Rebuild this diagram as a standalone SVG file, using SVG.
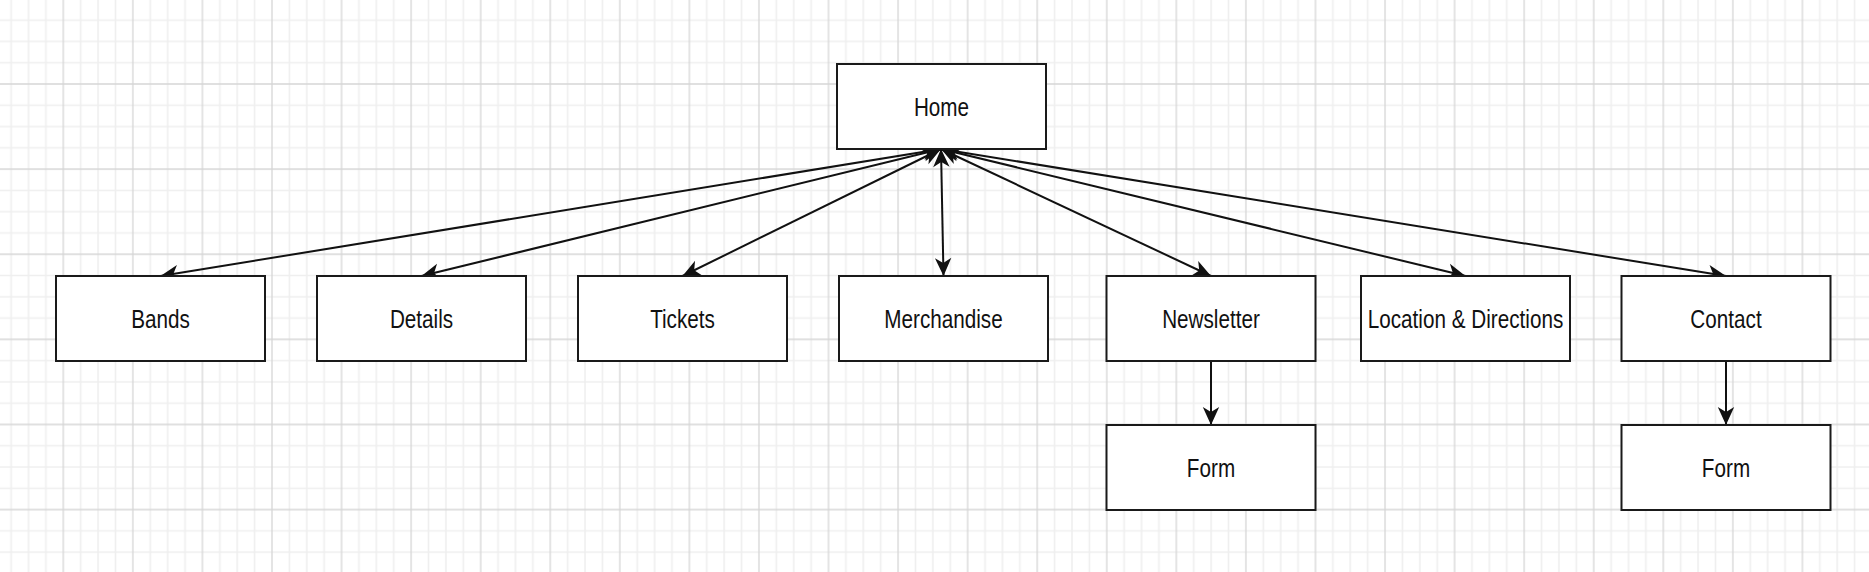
<svg xmlns="http://www.w3.org/2000/svg" width="1869" height="572" viewBox="0 0 1869 572">
  <style>
    .node rect { fill: #ffffff; stroke: #1a1a1a; stroke-width: 2; }
    .node text { font-family: "Liberation Sans", Arial, sans-serif; font-size: 20.7px; fill: #111111; text-anchor: middle; }
    .edge { fill: none; stroke: #111111; stroke-width: 2; }
    .minor { stroke: #efefef; stroke-width: 1.6; fill: none; }
    .major { stroke: #d6d6d6; stroke-width: 1.3; fill: none; }
  </style>
  <defs>
    <pattern id="grid" patternUnits="userSpaceOnUse" x="28.52" y="41.44" width="69.565" height="85.12">
      <path class="minor" d="M0,0 V85.12 M17.39,0 V85.12 M52.17,0 V85.12 M69.565,0 V85.12 M0,0 H69.565 M0,21.28 H69.565 M0,63.84 H69.565 M0,85.12 H69.565"/>
      <path class="major" d="M34.78,0 V85.12 M0,42.56 H69.565"/>
    </pattern>
    <marker id="arrow" markerUnits="userSpaceOnUse" viewBox="0 0 22 22" markerWidth="22" markerHeight="22" refX="20" refY="11" orient="auto-start-reverse">
      <path d="M20,11 L2,2.8 L7,11 L2,19.2 Z" fill="#111111"/>
    </marker>
  </defs>
  <rect x="0" y="0" width="1869" height="572" fill="#ffffff"/>
  <rect x="0" y="0" width="1869" height="572" fill="url(#grid)"/>

  <g id="connectors">
    <line class="edge" x1="941" y1="149" x2="160.5" y2="276" marker-start="url(#arrow)" marker-end="url(#arrow)"/>
    <line class="edge" x1="941" y1="149" x2="421.5" y2="276" marker-start="url(#arrow)" marker-end="url(#arrow)"/>
    <line class="edge" x1="941" y1="149" x2="682.5" y2="276" marker-start="url(#arrow)" marker-end="url(#arrow)"/>
    <line class="edge" x1="941" y1="149" x2="943.5" y2="276" marker-start="url(#arrow)" marker-end="url(#arrow)"/>
    <line class="edge" x1="941" y1="149" x2="1211" y2="276" marker-start="url(#arrow)" marker-end="url(#arrow)"/>
    <line class="edge" x1="941" y1="149" x2="1465.5" y2="276" marker-start="url(#arrow)" marker-end="url(#arrow)"/>
    <line class="edge" x1="941" y1="149" x2="1726" y2="276" marker-start="url(#arrow)" marker-end="url(#arrow)"/>
    <line class="edge" x1="1211" y1="361" x2="1211" y2="425" marker-end="url(#arrow)"/>
    <line class="edge" x1="1726" y1="361" x2="1726" y2="425" marker-end="url(#arrow)"/>
  </g>

  <g id="home" class="node">
    <rect x="837" y="64" width="209" height="85"/>
    <text transform="translate(941.5 106.5) scale(1 1.22)" x="0" y="7.45">Home</text>
  </g>
  <g id="bands" class="node">
    <rect x="56" y="276" width="209" height="85"/>
    <text transform="translate(160.5 318.5) scale(1 1.22)" x="0" y="7.45">Bands</text>
  </g>
  <g id="details" class="node">
    <rect x="317" y="276" width="209" height="85"/>
    <text transform="translate(421.5 318.5) scale(1 1.22)" x="0" y="7.45">Details</text>
  </g>
  <g id="tickets" class="node">
    <rect x="578" y="276" width="209" height="85"/>
    <text transform="translate(682.5 318.5) scale(1 1.22)" x="0" y="7.45">Tickets</text>
  </g>
  <g id="merchandise" class="node">
    <rect x="839" y="276" width="209" height="85"/>
    <text transform="translate(943.5 318.5) scale(1 1.22)" x="0" y="7.45">Merchandise</text>
  </g>
  <g id="newsletter" class="node">
    <rect x="1106.5" y="276" width="209" height="85"/>
    <text transform="translate(1211 318.5) scale(1 1.22)" x="0" y="7.45">Newsletter</text>
  </g>
  <g id="location" class="node">
    <rect x="1361" y="276" width="209" height="85"/>
    <text transform="translate(1465.5 318.5) scale(1 1.22)" x="0" y="7.45">Location &amp; Directions</text>
  </g>
  <g id="contact" class="node">
    <rect x="1621.5" y="276" width="209" height="85"/>
    <text transform="translate(1726 318.5) scale(1 1.22)" x="0" y="7.45">Contact</text>
  </g>
  <g id="newsletter-form" class="node">
    <rect x="1106.5" y="425" width="209" height="85"/>
    <text transform="translate(1211 467.5) scale(1 1.22)" x="0" y="7.45">Form</text>
  </g>
  <g id="contact-form" class="node">
    <rect x="1621.5" y="425" width="209" height="85"/>
    <text transform="translate(1726 467.5) scale(1 1.22)" x="0" y="7.45">Form</text>
  </g>
</svg>
